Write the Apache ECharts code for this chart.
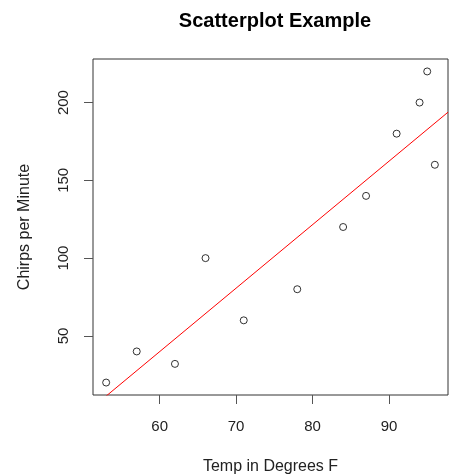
<!DOCTYPE html>
<html>
<head>
  <meta charset="UTF-8" />
  <title>Scatterplot Example</title>
  <script src="https://cdn.jsdelivr.net/npm/echarts@6.0.0/dist/echarts.min.js"></script>
  <style>
    html, body { margin: 0; padding: 0; background: #fff; }
    #main { width: 452px; height: 475px; }
  </style>
</head>
<body>
  <div id="main"></div>
  <script>
    // temperature (F) and chirps per minute
    const temps = [53, 57, 62, 66, 71, 78, 84, 87, 91, 94, 95, 96];
    const chirps = [20, 40, 32, 100, 60, 80, 120, 140, 180, 200, 220, 160];
    // fitted line endpoints
    const lineX = [51.28, 97.72];
    const lineY = [4.3, 193.8];
    const xTicks = [60, 70, 80, 90];
    const yTicks = [50, 100, 150, 200];

    const chart = echarts.init(document.getElementById('main'));
    const font = 'Liberation Sans, Arial, sans-serif';

    chart.setOption({
      backgroundColor: '#ffffff',
      animation: false,
      title: {
        text: 'Scatterplot Example',
        left: 270,
        top: 6,
        textAlign: 'center',
        textStyle: { fontFamily: font, fontSize: 20, fontWeight: 'bold', color: '#000' }
      },
      grid: {
        left: 93, right: 4, top: 59, bottom: 80,
        outerBoundsMode: 'none',
        containLabel: false,
        show: true,
        borderColor: '#333',
        borderWidth: 1,
        backgroundColor: 'transparent'
      },
      xAxis: {
        type: 'value',
        min: 51.28,
        max: 97.72,
        name: 'Temp in Degrees F',
        nameLocation: 'middle',
        nameGap: 64,
        nameTextStyle: { fontFamily: font, fontSize: 16, color: '#222' },
        axisLine: { show: false },
        splitLine: { show: false },
        axisTick: { show: true, inside: false, length: 9, customValues: xTicks, lineStyle: { color: '#555' } },
        axisLabel: { customValues: xTicks, margin: 24, fontFamily: font, fontSize: 15, color: '#222' }
      },
      yAxis: {
        type: 'value',
        min: 12,
        max: 228,
        name: 'Chirps per Minute',
        nameLocation: 'middle',
        nameGap: 60,
        nameRotate: 90,
        nameTextStyle: { fontFamily: font, fontSize: 16, color: '#222' },
        axisLine: { show: false },
        splitLine: { show: false },
        axisTick: { show: true, inside: false, length: 9, customValues: yTicks, lineStyle: { color: '#555' } },
        axisLabel: { customValues: yTicks, margin: 22, rotate: 90, fontFamily: font, fontSize: 15, color: '#222' }
      },
      series: [
        {
          type: 'scatter',
          data: temps.map((t, i) => [t, chirps[i]]),
          symbol: 'circle',
          symbolSize: 7,
          itemStyle: { color: '#fff', borderColor: '#000', borderWidth: 1 }
        },
        {
          type: 'line',
          data: lineX.map((x, i) => [x, lineY[i]]),
          showSymbol: false,
          clip: true,
          lineStyle: { color: '#ff0000', width: 1 }
        }
      ]
    });
  </script>
</body>
</html>
